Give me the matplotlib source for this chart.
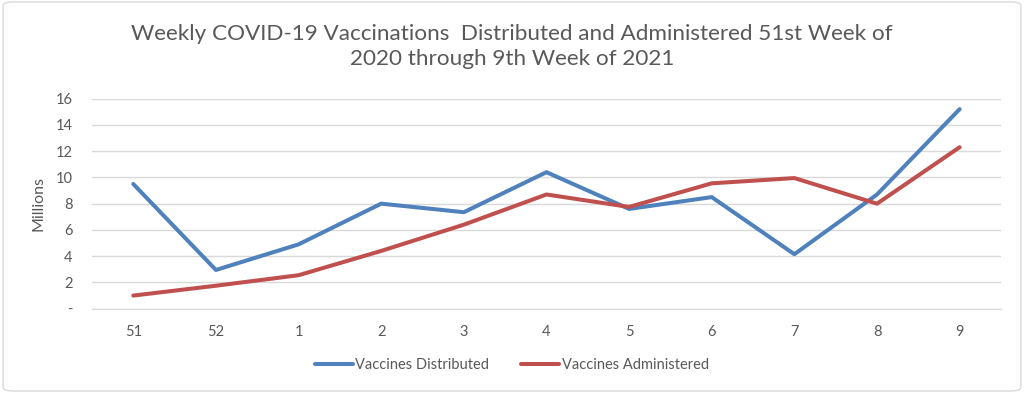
import matplotlib
matplotlib.use("Agg")
import matplotlib.pyplot as plt
from matplotlib.patches import FancyBboxPatch
from matplotlib.ticker import FuncFormatter

plt.rcParams['font.family'] = ['Lato', 'DejaVu Sans']

weeks = ["51", "52", "1", "2", "3", "4", "5", "6", "7", "8", "9"]
distributed = [9.5, 2.95, 4.9, 8.0, 7.35, 10.4, 7.6, 8.5, 4.15, 8.7, 15.2]
administered = [1.0, 1.75, 2.55, 4.4, 6.4, 8.7, 7.75, 9.55, 9.95, 8.0, 12.3]
yticks = [0, 2, 4, 6, 8, 10, 12, 14, 16]

blue = "#4F81BD"
red = "#C0504D"
gray = "#595959"

fig = plt.figure(figsize=(10.24, 3.93), dpi=100)
ax = fig.add_axes([0.0898, 0.2145, 0.8877, 0.5345])

x = list(range(len(weeks)))
ax.plot(x, distributed, color=blue, lw=2.9, label="Vaccines Distributed", solid_capstyle="round", solid_joinstyle="round")
ax.plot(x, administered, color=red, lw=2.9, label="Vaccines Administered", solid_capstyle="round", solid_joinstyle="round")

ax.set_xlim(-0.5, len(weeks) - 0.5)
ax.set_ylim(0, 16)
ax.set_yticks(yticks)
ax.yaxis.set_major_formatter(FuncFormatter(lambda v, p: "-" if v == 0 else f"{int(v)}"))
ax.set_xticks(x)
ax.set_xticklabels(weeks)
ax.grid(axis="y", color="#D9D9D9", lw=1)
ax.set_axisbelow(True)
for s in ["top", "right", "left"]:
    ax.spines[s].set_visible(False)
ax.spines["bottom"].set_color("#D9D9D9")
ax.tick_params(axis="both", length=0, colors=gray, labelsize=10.5)
ax.tick_params(axis="x", pad=12)
ax.tick_params(axis="y", pad=14)
ax.set_ylabel("Millions", color=gray, fontsize=11.5, labelpad=7)

fig.text(0.5, 0.882, "Weekly COVID-19 Vaccinations  Distributed and Administered 51st Week of\n2020 through 9th Week of 2021",
         ha="center", va="center", fontsize=16.2, color=gray, linespacing=1.3)

fig.legend(loc="center", bbox_to_anchor=(0.5, 0.07), ncol=2, frameon=False,
           fontsize=10.5, labelcolor=gray, handlelength=2.6, handletextpad=0.15, columnspacing=2.2)

border = FancyBboxPatch((0.003, 0.005), 0.994, 0.99, boxstyle="round,pad=0,rounding_size=0.01",
                        transform=fig.transFigure, fill=False, edgecolor="#D9D9D9", lw=1)
fig.patches.append(border)

fig.savefig("out.png", dpi=100)
